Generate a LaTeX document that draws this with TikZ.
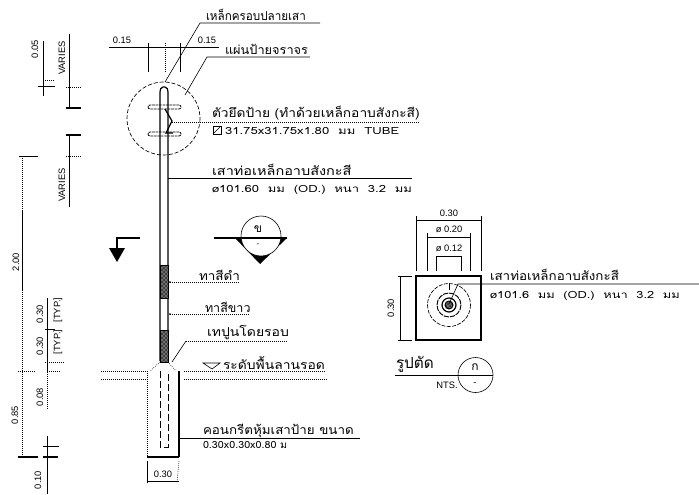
\documentclass[tikz,border=0pt]{standalone}
\usepackage{fontspec}
\setmainfont[Script=Thai]{Loma}
\newfontfamily\latinfont{Liberation Sans}
\usetikzlibrary{patterns}
\newcommand{\wide}[2]{\scalebox{#1}[1]{#2}}
\begin{document}
\begin{tikzpicture}[
  x=0.75pt, y=-0.75pt,
  every node/.style={inner sep=0pt, outer sep=0pt},
  thaibig/.style={anchor=base west, font=\fontsize{9.2}{10}\selectfont},
  thaismall/.style={anchor=base west, font=\fontsize{7.4}{9}\selectfont},
  dimtext/.style={font=\latinfont\fontsize{7}{8}\selectfont},
  dimside/.style={dimtext, rotate=90},
  obj/.style={line width=0.9pt},
  dim/.style={line width=0.45pt},
  dot/.style={line width=0.5pt, densely dotted},
  hidden/.style={line width=0.6pt, dash pattern=on 5pt off 2.5pt},
  painted/.style={preaction={fill=black!75}, pattern=crosshatch dots, pattern color=white, draw=black, line width=0.7pt}
]
\useasboundingbox (0,0) rectangle (699,494);

% pole
\draw[obj] (160,361) -- (160,92) to[out=90,in=180] (163,87) -- (165,87) to[out=0,in=90] (168,92) -- (168,361);

% plates and break
\draw[dash pattern=on 2pt off 0.6pt, line width=0.6pt, rounded corners=1.5pt] (148,105) rectangle (181,109);
\draw[dash pattern=on 2pt off 0.6pt, line width=0.6pt, rounded corners=1.5pt] (148,132) rectangle (181,136);
\draw[obj] (165,109) -- (172,121) -- (166,133) -- (173,133);
\draw[dash pattern=on 3pt off 1.5pt, line width=0.5pt] (163.5,118.5) circle (36.5);

% painted bands
\draw[painted] (160,265) rectangle (168,298);
\draw[painted] (160,330) rectangle (168,362);

% foundation
\draw[dot] (160,362) -- (150,371);
\draw[dot] (168,362) -- (176,371);
\draw[dot] (147,371) -- (147,457);
\draw[obj] (179,371) -- (179,457);
\draw[obj] (147,457) -- (179,457);
\draw[hidden] (160,371) -- (160,447) -- (168,447) -- (168,371);
\draw[dot] (101,371) -- (147,371);
\draw[dot] (101,379) -- (147,379);
\draw[dot] (184,379) -- (327,379);
\draw[dim] (147,461) -- (147,483);
\draw[dot] (179,461) -- (177,483);
\draw[dim] (147,481) -- (179,481);
\node[dimtext] (footw) at (163,474) {0.30};

% top dimension
\draw[dim] (109,47) -- (219,47);
\draw[dim] (148,43) -- (148,72);
\draw[dot] (165,43) -- (165,72);
\draw[dim] (180,43) -- (180,72);
\node[dimtext] (topl) at (122,40) {0.15};
\node[dimtext] (topr) at (207,40) {0.15};

% leaders and labels
\node[thaibig] (caplabel) at (206,20) {\wide{0.95}{เหล็กครอบปลายเสา}};
\coordinate (capknee) at (200,23);
\draw[dim] (165,82) -- (capknee) -- (320,23);
\node[thaibig] (signlabel) at (225,54) {\wide{1.04}{แผ่นป้ายจราจร}};
\coordinate (signknee) at (207,57);
\draw[dim] (185,95) -- (signknee) -- (310,57);
\node[thaibig] (clamplabel) at (212,117) {\wide{1.12}{ตัวยึดป้าย (ทำด้วยเหล็กอาบสังกะสี)}};
\draw[dot] (172,122) -- (420,122);
\draw[dim] (213,126) rectangle (221,134);
\draw[dim] (213,134) -- (221,126);
\node[thaismall] (clampsize) at (225,134) {\wide{1.33}{31.75x31.75x1.80\ \ มม\ \ TUBE}};
\node[thaibig] (polelabel) at (212,175) {\wide{1.18}{เสาท่อเหล็กอาบสังกะสี}};
\draw[dim] (168,178) -- (412,178);
\node[thaismall] (polesize) at (212,192) {\wide{1.32}{ø101.60\ \ มม\ \ (OD.)\ \ หนา\ \ 3.2\ \ มม}};
\node[thaibig] (blacklabel) at (199,280) {\wide{1.1}{ทาสีดำ}};
\draw[dot] (170,282) -- (240,282);
\node[thaibig] (whitelabel) at (205,312) {\wide{1.02}{ทาสีขาว}};
\draw[dot] (170,314) -- (250,314);
\fill (170,282) circle (1);
\fill (170,314) circle (1);
\node[thaibig] (maslabel) at (207,336) {\wide{1.14}{เทปูนโดยรอบ}};
\coordinate (masknee) at (186,341);
\draw[dim] (172,362) -- (masknee);
\draw[dot] (masknee) -- (287,341);
\node[thaibig] (levellabel) at (223,369) {\wide{1.13}{ระดับพื้นลานรอด}};
\draw[dot] (184,371) -- (325,371);
\draw[dim] (203,363) -- (220,363) -- (212,369) -- cycle;
\node[thaibig] (conclabel) at (203,434) {\wide{1.09}{คอนกรีตหุ้มเสาป้าย ขนาด}};
\draw[dim] (179,438) -- (360,438);
\node[thaismall] (concsize) at (203,448) {\wide{1.09}{0.30x0.30x0.80 ม}};

% left dimensions
\draw[dim] (43,41) -- (43,96);
\draw[dim] (38,86) -- (55,86);
\draw[dot] (45,80) -- (55,80);
\node[dimside] (d005) at (35,49) {0.05};
\draw[dim] (69,34) -- (69,108);
\draw[obj] (66,108) -- (81,108);
\draw[dot] (66,87) -- (81,87);
\node[dimside] (dvar1) at (62,58) {VARIES};
\draw[dim] (69,135) -- (69,207);
\draw[obj] (66,135) -- (81,135);
\draw[dot] (66,156) -- (81,156);
\node[dimside] (dvar2) at (62,185) {VARIES};
\draw[dim] (19,156) -- (38,156);
\draw[dot] (22,156) -- (22,210);
\draw[dim] (22,210) -- (22,290);
\draw[dot] (22,290) -- (22,370);
\node[dimside] (d200) at (16,262) {2.00};
\draw[dot] (22,370) -- (22,457);
\draw[dot] (18,371) -- (35,371);
\draw[obj] (18,457) -- (38,457);
\node[dimside] (d085) at (15,415) {0.85};
\draw[dim] (47,298) -- (47,370);
\draw[dot] (47,370) -- (47,410);
\draw[dim] (45,329) -- (55,329);
\draw[dot] (45,362) -- (65,362);
\draw[dot] (47,371) -- (60,371);
\node[dimside] (d030a) at (40,314) {0.30};
\node[dimside] (d030b) at (40,346) {0.30};
\node[dimside] (dtypa) at (58,310) {[TYP.]};
\node[dimside] (dtypb) at (58,342) {[TYP.]};
\node[dimside] (d008) at (40,397) {0.08};
\draw[dim] (43,446) -- (59,446);
\draw[obj] (43,457) -- (58,457);
\draw[dim] (47,436) -- (47,494);
\node[dimside] (d010) at (38,480) {0.10};

% section mark
\draw[obj] (140,238) -- (117,238) -- (117,250);
\fill (109,248) -- (125,248) -- (117,262) -- cycle;
\fill (235,238) -- (287,238) -- (260,264) -- cycle;
\draw[dim, fill=white] (261,236) circle (20);
\draw[obj] (214,238) -- (287,238);
\node[font=\fontsize{9}{10}\selectfont] (seclet) at (258,229) {ข};
\node[font=\latinfont\fontsize{6}{7}\selectfont] (secdash) at (258,245) {-};

% section detail
\draw[obj] (416,276) rectangle (481,340);
\draw[dash pattern=on 3pt off 1pt, line width=0.5pt] (449,305) circle (21.5);
\draw[dash pattern=on 4pt off 0.7pt, line width=0.7pt] (449,305) circle (12);
\draw[obj] (449,305) circle (7);
\draw[painted] (449,305) circle (4);
\draw[dim] (416,216) -- (416,271);
\draw[dim] (481,216) -- (481,271);
\draw[dim] (416,220) -- (481,220);
\node[dimtext] (w030) at (449,213) {0.30};
\draw[dim] (427,233) -- (427,271);
\draw[dim] (470,233) -- (470,271);
\draw[dim] (427,237) -- (470,237);
\node[dimtext] (w020) at (449,229) {ø 0.20};
\draw[dim] (436,256) -- (436,271);
\draw[dim] (461,256) -- (461,271);
\draw[dim] (436,256) -- (461,256);
\node[dimtext] (w012) at (449,248) {ø 0.12};
\draw[dim] (400,276) -- (400,340);
\draw[dim] (398,276) -- (412,276);
\draw[dim] (398,340) -- (412,340);
\node[dimside] (h030) at (391,308) {0.30};
\node[thaibig] (seclabel) at (490,280) {\wide{1.09}{เสาท่อเหล็กอาบสังกะสี}};
\draw[dim] (449,304) -- (458,284) -- (699,284);
\draw[dim] (449,284) -- (449,290);
\node[thaismall] (secsize) at (490,298) {\wide{1.3}{ø101.6\ \ มม\ \ (OD.)\ \ หนา\ \ 3.2\ \ มม}};

% section title
\node[anchor=base west, font=\fontsize{11.5}{13}\selectfont] (sectitle) at (396,368) {รูปตัด};
\draw[dim] (395,375) -- (458,375);
\node[dimtext] (nts) at (447,385) {NTS.};
\draw[dim] (475.5,375) circle (17.5);
\draw[dim] (458,375) -- (493,375);
\node[font=\fontsize{9}{10}\selectfont] (titlelet) at (475,367) {ก};
\node[dimtext] (titledash) at (475,384) {-};
\end{tikzpicture}
\end{document}
